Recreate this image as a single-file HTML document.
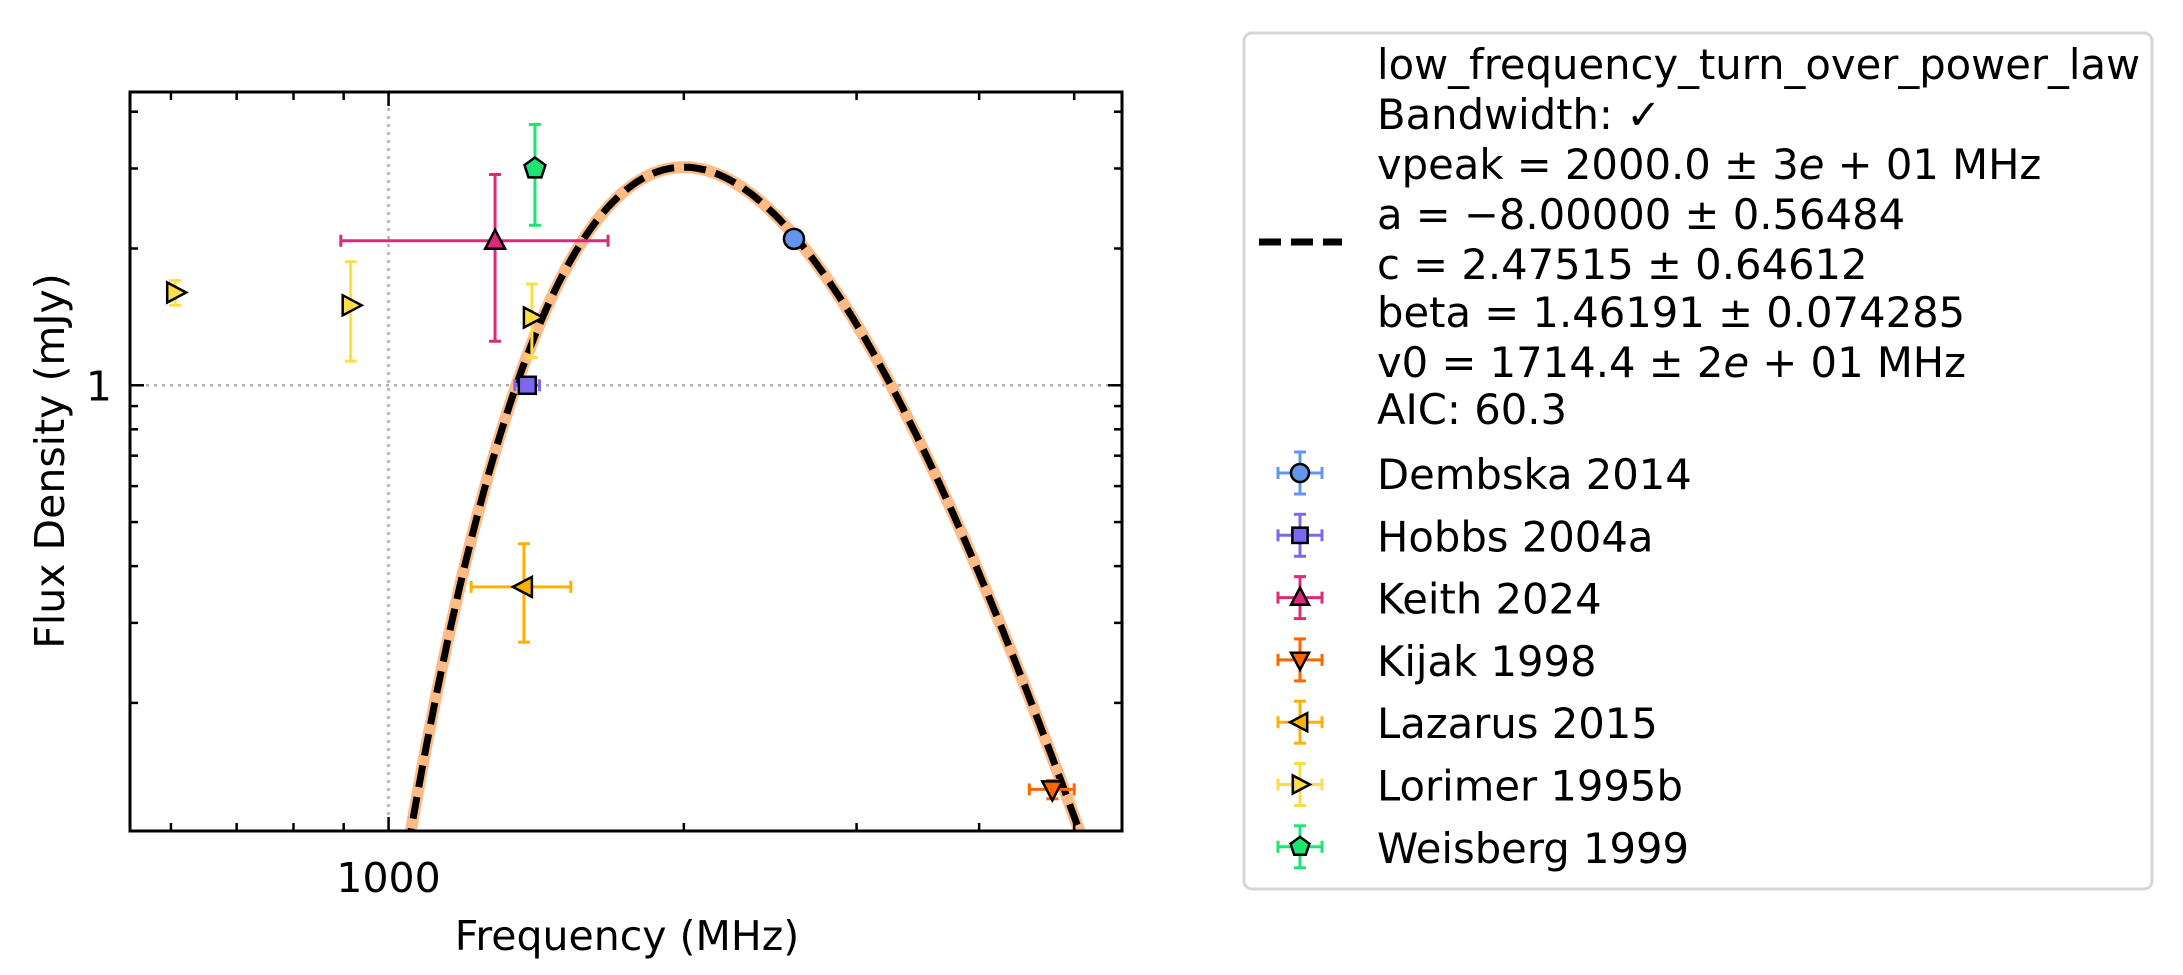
<!DOCTYPE html>
<html><head><meta charset="utf-8"><style>
html,body{margin:0;padding:0;background:#fff;}
svg{display:block;font-family:"DejaVu Sans","Liberation Sans",sans-serif;}
</style></head><body>
<svg id="chart" width="2183" height="975" viewBox="0 0 2183 975" xmlns="http://www.w3.org/2000/svg">
<rect width="2183" height="975" fill="#fff"/>
<g id="plot"></g>
<text x="627" y="950" font-size="41" text-anchor="middle">Frequency (MHz)</text>
<text transform="translate(64,461) rotate(-90)" font-size="41" text-anchor="middle">Flux Density (mJy)</text>
<g>
<rect x="1244" y="33" width="908" height="856" rx="8" fill="#fff" stroke="#d6d6d6" stroke-width="3"/>
<line x1="1259" y1="242" x2="1342" y2="242" stroke="#000" stroke-width="7" stroke-dasharray="22,10"/>
<g font-size="41.7">
<text x="1377" y="79">low_frequency_turn_over_power_law</text>
<text x="1377" y="129">Bandwidth: ✓</text>
<text x="1377" y="179">vpeak = 2000.0 ± 3<tspan font-style="italic">e</tspan> + 01 MHz</text>
<text x="1377" y="229">a = −8.00000 ± 0.56484</text>
<text x="1377" y="279">c = 2.47515 ± 0.64612</text>
<text x="1377" y="327">beta = 1.46191 ± 0.074285</text>
<text x="1377" y="377">v0 = 1714.4 ± 2<tspan font-style="italic">e</tspan> + 01 MHz</text>
<text x="1377" y="424">AIC: 60.3</text>
</g>
<g id="legend-entries"></g>
</g>
</svg>
<script>
const seriesNames = ["Dembska 2014","Hobbs 2004a","Keith 2024","Kijak 1998","Lazarus 2015","Lorimer 1995b","Weisberg 1999"];
const seriesColors = ["#6495ED","#7B68EE","#DB2A7A","#FF6600","#FFB000","#FFDD44","#1AE575"];
const seriesMarkers = ["circle","square","triangle-up","triangle-down","triangle-left","triangle-right","pentagon"];
// data points: series index, freq (MHz), flux (mJy), freq err, flux err
const pointSeries = [0,1,2,3,4,5,5,5,6];
const pointFreq   = [2590,1385,1284,4750,1374,606,915,1400,1410];
const pointFlux   = [2.10,1.00,2.08,0.129,0.36,1.60,1.50,1.41,3.00];
const pointFreqErr= [0,40,390,250,160,0,0,0,0];
const pointFluxErr= [0,0.04,0.83,0.006,0.088,0.10,0.37,0.26,0.75];
// fit parameters
const fitVpeak = 2000.0, fitA = -8.0, fitBeta = 1.46191, fitPeakFlux = 3.02;
const xTicksMajor = [1000], xTickLabels = ["1000"];
const xTicksMinor = [600,700,800,900,2000,3000,4000,5000];
const yTicksMajor = [1], yTickLabels = ["1"];
const yTicksMinor = [0.2,0.3,0.4,0.5,0.6,0.7,0.8,0.9,2,3,4];

const L=130,R=1122,T=92,B=831;
const xmin=545,xmax=5594,ymin=0.1045,ymax=4.42;
const NS="http://www.w3.org/2000/svg";
function X(f){return L+(R-L)*Math.log10(f/xmin)/Math.log10(xmax/xmin);}
function Y(v){return B-(B-T)*Math.log10(v/ymin)/Math.log10(ymax/ymin);}
function mk(tag,attrs,parent){const e=document.createElementNS(NS,tag);for(const k in attrs)e.setAttribute(k,attrs[k]);parent.appendChild(e);return e;}
const plot=document.getElementById('plot');
const defs=mk('defs',{},plot);
const cp=mk('clipPath',{id:'clip'},defs);mk('rect',{x:L,y:T,width:R-L,height:B-T},cp);

// grid
let g=mk('line',{x1:X(1000),x2:X(1000),y1:T,y2:B,stroke:'#b0b0b0','stroke-width':2.5,'stroke-dasharray':'3,5'},plot);


g=mk('line',{x1:L,x2:R,y1:Y(1),y2:Y(1),stroke:'#b0b0b0','stroke-width':2.5,'stroke-dasharray':'3,5'},plot);



// fit curve
function model(f){return fitPeakFlux*Math.pow(f/fitVpeak,fitA)*Math.exp(fitA/fitBeta*(Math.pow(f/fitVpeak,-fitBeta)-1));}
let d='';
for(let i=0;i<=400;i++){const f=xmin*Math.pow(xmax/xmin,i/400);let v=model(f);if(v<0.05)v=0.05;d+=(i?'L':'M')+X(f).toFixed(1)+','+Y(v).toFixed(1);}
let c=mk('path',{d:d,fill:'none',stroke:'#FFBB85','stroke-width':12,'clip-path':'url(#clip)'},plot);


c=mk('path',{d:d,fill:'none',stroke:'#000','stroke-width':7,'stroke-dasharray':'22,10','clip-path':'url(#clip)'},plot);



function marker(type,cx,cy,s,color,parent){
  let e;
  const pts=(arr)=>arr.map(p=>(cx+p[0]*s).toFixed(1)+','+(cy+p[1]*s).toFixed(1)).join(' ');
  if(type==='circle')e=mk('ellipse',{cx:cx,cy:cy,rx:s,ry:s},parent);
  else if(type==='square')e=mk('rect',{x:cx-s*0.85,y:cy-s*0.85,width:s*1.7,height:s*1.7},parent);
  else if(type==='triangle-up')e=mk('polygon',{points:pts([[0,-1.1],[1,0.8],[-1,0.8]])},parent);
  else if(type==='triangle-down')e=mk('polygon',{points:pts([[0,1.1],[1,-0.8],[-1,-0.8]])},parent);
  else if(type==='triangle-left')e=mk('polygon',{points:pts([[-1.1,0],[0.8,-1],[0.8,1]])},parent);
  else if(type==='triangle-right')e=mk('polygon',{points:pts([[1.1,0],[-0.8,-1],[-0.8,1]])},parent);
  else {const a=[];for(let k=0;k<5;k++){const t=-Math.PI/2+k*2*Math.PI/5;a.push([Math.cos(t)*1.1,Math.sin(t)*1.1]);}e=mk('polygon',{points:pts(a)},parent);}
  e.setAttribute('fill',color);e.setAttribute('stroke','#000');e.setAttribute('stroke-width',2.5);
  return e;
}
function errbar(x1,y1,x2,y2,color,vertical,parent){
  mk('line',{x1:x1,y1:y1,x2:x2,y2:y2,stroke:color,'stroke-width':3},parent);
  if(vertical){mk('line',{x1:x1-6,x2:x1+6,y1:y1,y2:y1,stroke:color,'stroke-width':3},parent);mk('line',{x1:x2-6,x2:x2+6,y1:y2,y2:y2,stroke:color,'stroke-width':3},parent);}
  else{mk('line',{x1:x1,x2:x1,y1:y1-6,y2:y1+6,stroke:color,'stroke-width':3},parent);mk('line',{x1:x2,x2:x2,y1:y2-6,y2:y2+6,stroke:color,'stroke-width':3},parent);}
}
for(let i=0;i<pointFreq.length;i++){
  const s=pointSeries[i],col=seriesColors[s];
  const grp=mk('g',{},plot);
  
  
  const cx=X(pointFreq[i]),cy=Y(pointFlux[i]);
  if(pointFreqErr[i]>0)errbar(X(pointFreq[i]-pointFreqErr[i]),cy,X(pointFreq[i]+pointFreqErr[i]),cy,col,false,grp);
  if(pointFluxErr[i]>0)errbar(cx,Y(pointFlux[i]+pointFluxErr[i]),cx,Y(Math.max(pointFlux[i]-pointFluxErr[i],0.01)),col,true,grp);
  marker(seriesMarkers[s],cx,cy,10,col,grp);
}

// axes frame and ticks
const ax=mk('g',{},plot);


mk('rect',{x:L,y:T,width:R-L,height:B-T,fill:'none',stroke:'#000','stroke-width':3},ax);
function xt(f,len){mk('line',{x1:X(f),x2:X(f),y1:B,y2:B-len,stroke:'#000','stroke-width':2.5},ax);mk('line',{x1:X(f),x2:X(f),y1:T,y2:T+len,stroke:'#000','stroke-width':2.5},ax);}
function yt(v,len){mk('line',{x1:L,x2:L+len,y1:Y(v),y2:Y(v),stroke:'#000','stroke-width':2.5},ax);mk('line',{x1:R,x2:R-len,y1:Y(v),y2:Y(v),stroke:'#000','stroke-width':2.5},ax);}
xTicksMinor.forEach(f=>xt(f,8));xTicksMajor.forEach(f=>xt(f,14));
yTicksMinor.forEach(v=>yt(v,8));yTicksMajor.forEach(v=>yt(v,14));
xTicksMajor.forEach((f,i)=>{const t=mk('text',{x:X(f),y:892,'font-size':41,'text-anchor':'middle'},ax);t.textContent=xTickLabels[i];

});
yTicksMajor.forEach((v,i)=>{const t=mk('text',{x:112,y:Y(v)+15,'font-size':41,'text-anchor':'end'},ax);t.textContent=yTickLabels[i];

});

// legend entries
const le=document.getElementById('legend-entries');
seriesNames.forEach((n,i)=>{
  const cy=473+i*62.3,cx=1300,col=seriesColors[i];
  const grp=mk('g',{},le);
  
  
  errbar(cx-22,cy,cx+22,cy,col,false,grp);
  errbar(cx,cy-21,cx,cy+21,col,true,grp);
  marker(seriesMarkers[i],cx,cy,9,col,grp);
  const t=mk('text',{x:1377,y:cy+16,'font-size':41.7},grp);t.textContent=n;
});
</script>
</body></html>
